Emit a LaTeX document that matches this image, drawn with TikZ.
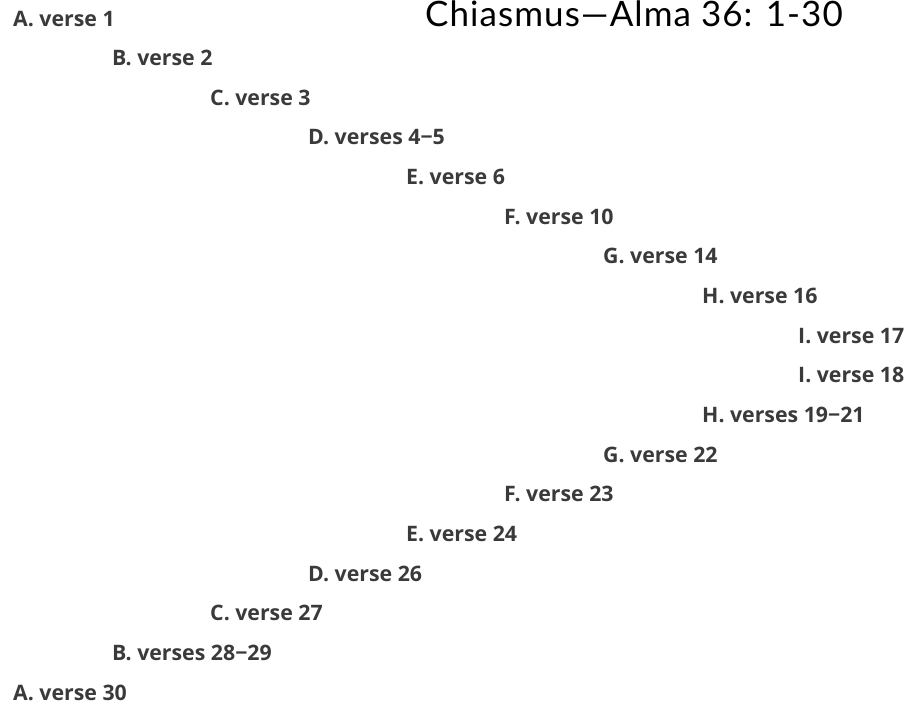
\documentclass[tikz,border=0pt]{standalone}
\usepackage{fontspec}
\setmainfont{Open Sans}
\newfontfamily\titlefont[LetterSpace=3]{Lato}
\definecolor{itemgray}{HTML}{3A3A3A}
\begin{document}
\begin{tikzpicture}[x=1pt,y=-1pt,
  stanza/.style={anchor=base west,inner sep=0pt,text=itemgray,font=\bfseries\fontsize{21.3}{25}\selectfont},
  heading/.style={anchor=base west,inner sep=0pt,text=black,font=\titlefont\fontsize{35}{42}\selectfont}]
\useasboundingbox (0,0) rectangle (912,704);
\node[heading] (title) at (425,27) {Chiasmus—Alma 36: 1-30};
\foreach \nm/\col/\row/\txt in {
  a1/13/0/{A. verse 1},
  b1/112/1/{B. verse 2},
  c1/210/2/{C. verse 3},
  d1/308/3/{D. verses 4−5},
  e1/406/4/{E. verse 6},
  f1/504/5/{F. verse 10},
  g1/603/6/{G. verse 14},
  h1/702/7/{H. verse 16},
  i1/798/8/{I. verse 17},
  i2/798/9/{I. verse 18},
  h2/702/10/{H. verses 19−21},
  g2/603/11/{G. verse 22},
  f2/504/12/{F. verse 23},
  e2/406/13/{E. verse 24},
  d2/308/14/{D. verse 26},
  c2/210/15/{C. verse 27},
  b2/112/16/{B. verses 28−29},
  a2/13/17/{A. verse 30}}
  \node[stanza] (\nm) at (\col,26+\row*39.65) {\txt};
\end{tikzpicture}
\end{document}
